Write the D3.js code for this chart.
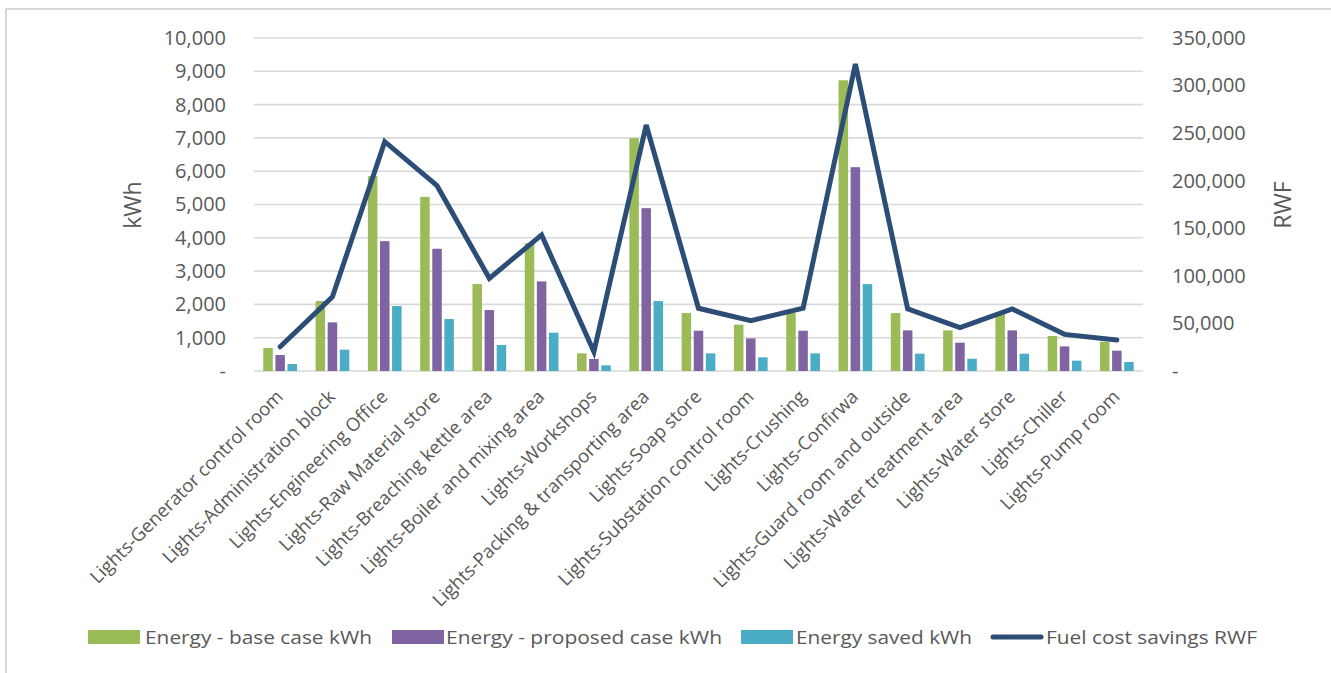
<!DOCTYPE html>
<html>
<head>
<meta charset="utf-8">
<script src="https://cdn.jsdelivr.net/npm/d3@7"></script>
<style>
  html, body { margin: 0; padding: 0; background: #fff; }
  svg { display: block; font-family: "Open Sans", "Noto Sans", sans-serif; }
</style>
</head>
<body>
<svg id="chart" width="1331" height="673"></svg>
<script>
// Lighting areas
const categories = [
  "Lights-Generator control room",
  "Lights-Administration block",
  "Lights-Engineering Office",
  "Lights-Raw Material store",
  "Lights-Breaching kettle area",
  "Lights-Boiler and mixing area",
  "Lights-Workshops",
  "Lights-Packing & transporting area",
  "Lights-Soap store",
  "Lights-Substation control room",
  "Lights-Crushing",
  "Lights-Confirwa",
  "Lights-Guard room and outside",
  "Lights-Water treatment area",
  "Lights-Water store",
  "Lights-Chiller",
  "Lights-Pump room"
];

// Energy, kWh
const baseCase     = [690, 2100, 5850, 5230, 2610, 3840, 530, 6990, 1740, 1390, 1740, 8730, 1740, 1220, 1740, 1050, 880];
const proposedCase = [480, 1460, 3900, 3670, 1830, 2690, 360, 4890, 1210,  980, 1210, 6120, 1220,  850, 1220,  740, 610];
const energySaved  = [210,  640, 1950, 1560,  780, 1150, 170, 2100,  530,  410,  530, 2610,  520,  370,  520,  310, 270];

// Fuel cost savings, RWF
const costSavings = [25500, 78000, 241000, 194800, 97400, 143000, 20300, 258600, 65900, 52900, 65900, 322700, 65200, 45500, 65200, 38500, 32600];

const leftTicks  = [0, 1000, 2000, 3000, 4000, 5000, 6000, 7000, 8000, 9000, 10000];
const rightTicks = [0, 50000, 100000, 150000, 200000, 250000, 300000, 350000];

const seriesNames = ["Energy - base case kWh", "Energy - proposed case kWh", "Energy saved kWh", "Fuel cost savings RWF"];
const barColors = ["#9bbb59", "#8064a2", "#4bacc6"];
const lineColor = "#2c4d75";
const textColor = "#595959";
const gridColor = "#d9d9d9";

const svg = d3.select("#chart");

// chart frame
svg.append("rect")
  .attr("x", 6).attr("y", 9)
  .attr("width", 1340).attr("height", 680)
  .attr("fill", "none").attr("stroke", gridColor).attr("stroke-width", 2);

const plot = { left: 254, right: 1143, top: 38, bottom: 371 };

const x = d3.scaleBand().domain(categories).range([plot.left, plot.right]).paddingInner(0).paddingOuter(0);
const yL = d3.scaleLinear().domain([0, 10000]).range([plot.bottom, plot.top]);
const yR = d3.scaleLinear().domain([0, 350000]).range([plot.bottom, plot.top]);

const fmt = v => v === 0 ? "-" : d3.format(",")(v);

// gridlines
svg.append("g")
  .selectAll("line")
  .data(leftTicks)
  .join("line")
  .attr("x1", plot.left).attr("x2", plot.right)
  .attr("y1", d => yL(d)).attr("y2", d => yL(d))
  .attr("stroke", gridColor).attr("stroke-width", 1.6);

// left axis
const leftAxis = svg.append("g")
  .attr("transform", `translate(${plot.left},0)`)
  .call(d3.axisLeft(yL).tickValues(leftTicks).tickFormat(fmt).tickSize(0).tickPadding(28));
leftAxis.select(".domain").remove();
leftAxis.selectAll("text").attr("fill", textColor).style("font-size", "20px").style("font-family", "'Open Sans', sans-serif");

// right axis
const rightAxis = svg.append("g")
  .attr("transform", `translate(${plot.right},0)`)
  .call(d3.axisRight(yR).tickValues(rightTicks).tickFormat(fmt).tickSize(0).tickPadding(29));
rightAxis.select(".domain").remove();
rightAxis.selectAll("text").attr("fill", textColor).style("font-size", "20px").style("font-family", "'Open Sans', sans-serif");

// axis titles
svg.append("text")
  .attr("transform", `translate(141,205) rotate(-90)`)
  .attr("text-anchor", "middle")
  .attr("fill", textColor).style("font-size", "23px")
  .text("kWh");
svg.append("text")
  .attr("transform", `translate(1291,205) rotate(-90)`)
  .attr("text-anchor", "middle")
  .attr("fill", textColor).style("font-size", "23px")
  .text("RWF");

// grouped bars
const barSeries = [baseCase, proposedCase, energySaved];
const bw = x.bandwidth();
const barW = 9.5, barGap = 2.6;
const groupW = barW * 3 + barGap * 2;
barSeries.forEach((vals, si) => {
  svg.append("g")
    .selectAll("rect")
    .data(vals)
    .join("rect")
    .attr("x", (d, i) => x(categories[i]) + (bw - groupW) / 2 + si * (barW + barGap))
    .attr("y", d => yL(d))
    .attr("width", barW)
    .attr("height", d => yL(0) - yL(d))
    .attr("fill", barColors[si]);
});

// cost savings line
const line = d3.line()
  .x((d, i) => x(categories[i]) + bw / 2)
  .y(d => yR(d));
svg.append("path")
  .datum(costSavings)
  .attr("d", line)
  .attr("fill", "none")
  .attr("stroke", lineColor)
  .attr("stroke-width", 5)
  .attr("stroke-linejoin", "miter")
  .attr("stroke-linecap", "round");

// category labels
svg.append("g")
  .selectAll("text")
  .data(categories)
  .join("text")
  .attr("transform", d => `translate(${x(d) + bw / 2 + 4},${plot.bottom + 27}) rotate(-45)`)
  .attr("text-anchor", "end")
  .attr("fill", textColor)
  .style("font-size", "18.5px")
  .text(d => d);

// legend
const legendItems = [
  { name: seriesNames[0], color: barColors[0], type: "bar", sx: 88, tx: 145, w: 227 },
  { name: seriesNames[1], color: barColors[1], type: "bar", sx: 392, tx: 446, w: 276 },
  { name: seriesNames[2], color: barColors[2], type: "bar", sx: 741, tx: 796, w: 176 },
  { name: seriesNames[3], color: lineColor, type: "line", sx: 991, tx: 1046, w: 211 }
];
const lg = svg.append("g");
legendItems.forEach(it => {
  if (it.type === "bar") {
    lg.append("rect").attr("x", it.sx).attr("y", 630).attr("width", 52).attr("height", 14).attr("fill", it.color);
  } else {
    lg.append("line").attr("x1", it.sx + 2).attr("x2", it.sx + 50).attr("y1", 637).attr("y2", 637)
      .attr("stroke", it.color).attr("stroke-width", 5).attr("stroke-linecap", "round");
  }
  lg.append("text").attr("x", it.tx).attr("y", 644)
    .attr("fill", textColor).style("font-size", "19px")
    .attr("textLength", it.w).attr("lengthAdjust", "spacingAndGlyphs")
    .text(it.name);
});
</script>
</body>
</html>
